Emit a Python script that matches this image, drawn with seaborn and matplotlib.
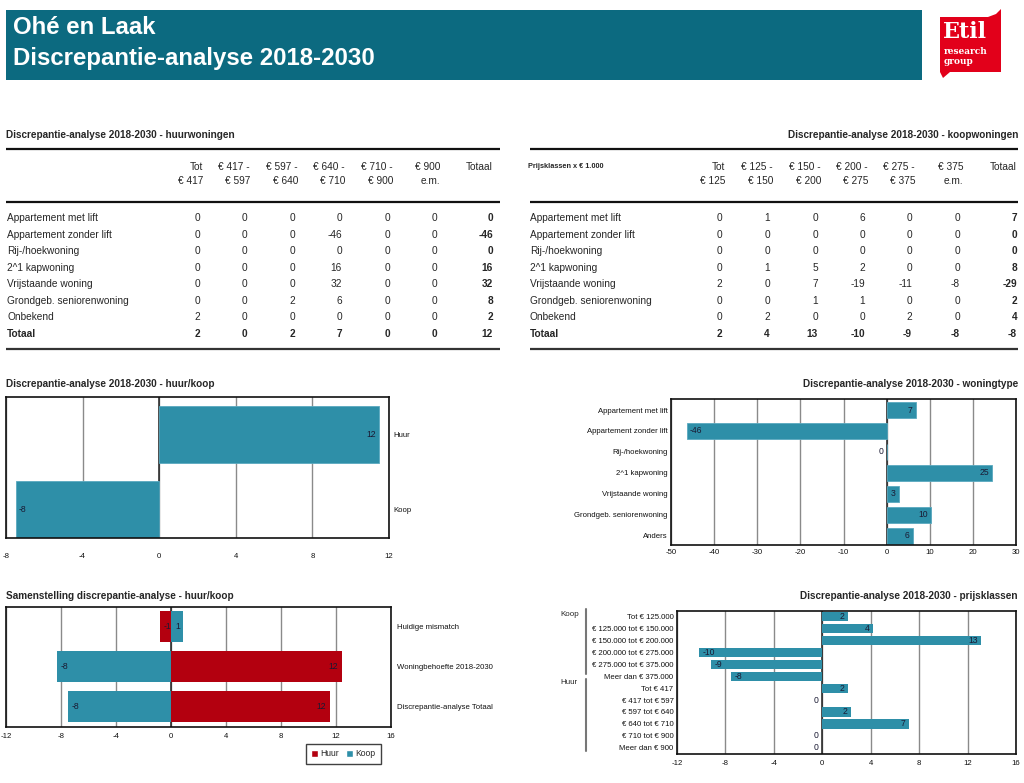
import matplotlib
matplotlib.use('Agg')
import matplotlib.pyplot as plt
import seaborn as sns
import pandas as pd
from matplotlib.patches import Rectangle, Polygon, Patch
from matplotlib.lines import Line2D

sns.set_theme(style='white')
plt.rcParams['font.family'] = ['Liberation Sans', 'DejaVu Sans']
plt.rcParams['axes.unicode_minus'] = False

# ---------------- data ----------------
page_title = "Ohé en Laak"
page_subtitle = "Discrepantie-analyse 2018-2030"

table_rows = ["Appartement met lift", "Appartement zonder lift", "Rij-/hoekwoning",
              "2^1 kapwoning", "Vrijstaande woning", "Grondgeb. seniorenwoning",
              "Onbekend", "Totaal"]
huur_head1 = ["Tot", "€ 417 -", "€ 597 -", "€ 640 -", "€ 710 -", "€ 900", "Totaal"]
huur_head2 = ["€ 417", "€ 597", "€ 640", "€ 710", "€ 900", "e.m.", ""]
huur_table = [[0, 0, 0, 0, 0, 0, 0],
              [0, 0, 0, -46, 0, 0, -46],
              [0, 0, 0, 0, 0, 0, 0],
              [0, 0, 0, 16, 0, 0, 16],
              [0, 0, 0, 32, 0, 0, 32],
              [0, 0, 2, 6, 0, 0, 8],
              [2, 0, 0, 0, 0, 0, 2],
              [2, 0, 2, 7, 0, 0, 12]]
koop_head1 = ["Tot", "€ 125 -", "€ 150 -", "€ 200 -", "€ 275 -", "€ 375", "Totaal"]
koop_head2 = ["€ 125", "€ 150", "€ 200", "€ 275", "€ 375", "e.m.", ""]
koop_table = [[0, 1, 0, 6, 0, 0, 7],
              [0, 0, 0, 0, 0, 0, 0],
              [0, 0, 0, 0, 0, 0, 0],
              [0, 1, 5, 2, 0, 0, 8],
              [2, 0, 7, -19, -11, -8, -29],
              [0, 0, 1, 1, 0, 0, 2],
              [0, 2, 0, 0, 2, 0, 4],
              [2, 4, 13, -10, -9, -8, -8]]

hk_cats = ["Huur", "Koop"]
hk_values = [11.5, -7.5]
hk_labels = ["12", "-8"]

wt_cats = ["Appartement met lift", "Appartement zonder lift", "Rij-/hoekwoning",
           "2^1 kapwoning", "Vrijstaande woning", "Grondgeb. seniorenwoning", "Anders"]
wt_values = [6.7, -46.4, 0, 24.5, 2.8, 10.4, 6.0]
wt_labels = ["7", "-46", "0", "25", "3", "10", "6"]

sam_cats = ["Huidige mismatch", "Woningbehoefte 2018-2030", "Discrepantie-analyse Totaal"]
sam_huur = [-0.8, 12.4, 11.55]
sam_koop = [0.9, -8.3, -7.5]
sam_huur_labels = ["-1", "12", "12"]
sam_koop_labels = ["1", "-8", "-8"]

pk_cats = ["Tot € 125.000", "€ 125.000 tot € 150.000", "€ 150.000 tot € 200.000",
           "€ 200.000 tot € 275.000", "€ 275.000 tot € 375.000", "Meer dan € 375.000",
           "Tot € 417", "€ 417 tot € 597", "€ 597 tot € 640", "€ 640 tot € 710",
           "€ 710 tot € 900", "Meer dan € 900"]
pk_values = [2.1, 4.2, 13.1, -10.2, -9.2, -7.5, 2.1, 0, 2.35, 7.15, 0, 0]
pk_labels = ["2", "4", "13", "-10", "-9", "-8", "2", "0", "2", "7", "0", "0"]
pk_groups = ["Koop", "Huur"]

# ---------------- style ----------------
TEAL = '#2e8fa8'
RED = '#b3000f'
HEADER = '#0c6a80'
LOGO_RED = '#e2001a'
LBL = '#1a1a33'
W, H = 1024, 783

fig = plt.figure(figsize=(10.24, 7.83), dpi=100)


def fx(x):
    return x / W


def fy(y):
    return 1 - y / H


def hline(x0, x1, y, lw=1.6, color='#111111'):
    fig.add_artist(Line2D([fx(x0), fx(x1)], [fy(y), fy(y)], transform=fig.transFigure,
                          color=color, lw=lw, solid_capstyle='butt'))


# ---------------- header ----------------
fig.add_artist(Rectangle((fx(6), fy(80)), fx(922) - fx(6), fy(10) - fy(80), transform=fig.transFigure,
                         facecolor=HEADER, edgecolor='none'))
fig.text(fx(13), fy(27), page_title, color='white', fontsize=17.3, fontweight='bold', va='center')
fig.text(fx(13), fy(58), page_subtitle, color='white', fontsize=17.3, fontweight='bold', va='center')

logo_pts = [(940, 17), (988, 17), (996, 14), (1001, 9), (1001, 72), (950, 72),
            (943, 78), (940, 72)]
fig.add_artist(Polygon([(fx(a), fy(b)) for a, b in logo_pts], closed=True,
                       transform=fig.transFigure, facecolor=LOGO_RED, edgecolor='none'))
fig.text(fx(943), fy(32), "Etil", color='white', fontsize=16, fontweight='bold',
         family='DejaVu Serif', va='center')
fig.text(fx(944), fy(52), "research", color='white', fontsize=6.5, fontweight='bold',
         family='DejaVu Serif', va='center')
fig.text(fx(944), fy(62), "group", color='white', fontsize=6.5, fontweight='bold',
         family='DejaVu Serif', va='center')

# ---------------- tables ----------------
row_y = [218, 235, 251, 268, 284, 301, 317, 334]
TFS = 7.3


def draw_table(x_label, x_left, x_right, col_x, head1, head2, data, title, title_right):
    if title_right:
        fig.text(fx(x_right), fy(135.5), title, fontsize=7.2, fontweight='bold', ha='right', va='center')
    else:
        fig.text(fx(x_left), fy(135.5), title, fontsize=7.2, fontweight='bold', ha='left', va='center')
    hline(x_left, x_right, 149)
    hline(x_left, x_right, 202)
    hline(x_left, x_right, 349, color='#333333')
    for j, cx in enumerate(col_x):
        off = 0 if j == len(col_x) - 1 else 3
        fig.text(fx(cx + off), fy(167), head1[j], fontsize=TFS, ha='right', va='center')
        fig.text(fx(cx + off), fy(181), head2[j], fontsize=TFS, ha='right', va='center')
    for i, lab in enumerate(table_rows):
        bold = (i == len(table_rows) - 1)
        fig.text(fx(x_label), fy(row_y[i]), lab, fontsize=TFS, ha='left', va='center',
                 fontweight='bold' if bold else 'normal')
        for j, cx in enumerate(col_x):
            b = bold or j == len(col_x) - 1
            fig.text(fx(cx), fy(row_y[i]), str(data[i][j]), fontsize=TFS, ha='right', va='center',
                     fontweight='bold' if b else 'normal')


draw_table(7, 6, 500, [200, 247, 295, 342, 390, 437, 493], huur_head1, huur_head2, huur_table,
           "Discrepantie-analyse 2018-2030 - huurwoningen", False)
draw_table(530, 530, 1018, [722, 770, 818, 865, 912, 960, 1017], koop_head1, koop_head2, koop_table,
           "Discrepantie-analyse 2018-2030 - koopwoningen", True)
fig.text(fx(528), fy(166.5), "Prijsklassen x € 1.000", fontsize=5.3, fontweight='bold', ha='left', va='center')


# ---------------- charts ----------------
def make_ax(x0, x1, y0, y1):
    return fig.add_axes([fx(x0), fy(y1), fx(x1) - fx(x0), fy(y0) - fy(y1)])


def style_ax(ax, ticks, xlim, ylim, xpad, ypad, right=False):
    ax.set_xlim(*xlim)
    ax.set_xticks(ticks)
    ax.set_xticklabels([str(t) for t in ticks])
    ax.set_ylim(*ylim)
    ax.grid(axis='x', color='#8a8a8a', lw=1.0)
    ax.grid(axis='y', visible=False)
    ax.set_axisbelow(True)
    ax.axvline(0, color='#222222', lw=1.1, zorder=0.8)
    for s in ax.spines.values():
        s.set_visible(True)
        s.set_color('#111111')
        s.set_linewidth(1.2)
    ax.tick_params(axis='x', length=0, labelsize=5.6, pad=xpad, colors='#111111')
    ax.tick_params(axis='y', length=0, labelsize=5.6, pad=ypad, colors='#111111')
    if right:
        ax.yaxis.tick_right()
    ax.set_xlabel('')
    ax.set_ylabel('')
    ax.set_facecolor('white')


def label_bars(ax, values, labels, positions, fs=6.2):
    for v, lab, p in zip(values, labels, positions):
        if v > 0:
            ax.annotate(lab, (v, p), xytext=(-2.5, 0), textcoords='offset points',
                        ha='right', va='center', fontsize=fs, color=LBL)
        elif v < 0:
            ax.annotate(lab, (v, p), xytext=(2.5, 0), textcoords='offset points',
                        ha='left', va='center', fontsize=fs, color=LBL)
        else:
            ax.annotate(lab, (0, p), xytext=(-2.5, 0), textcoords='offset points',
                        ha='right', va='center', fontsize=fs, color=LBL)


BAR_KW = dict(saturation=1, linewidth=0.6, edgecolor='#5aa9bf')

# Chart 1: huur/koop
fig.text(fx(6), fy(384), "Discrepantie-analyse 2018-2030 - huur/koop", fontsize=7.2,
         fontweight='bold', va='center')
ax1 = make_ax(6, 389, 397, 538)
sns.barplot(x=hk_values, y=hk_cats, orient='h', color=TEAL, width=0.76, ax=ax1, **BAR_KW)
style_ax(ax1, [-8, -4, 0, 4, 8, 12], (-8, 12), (1.38, -0.5), 11, 3, right=True)
label_bars(ax1, hk_values, hk_labels, range(len(hk_cats)))

# Chart 2: woningtype
fig.text(fx(1018), fy(384), "Discrepantie-analyse 2018-2030 - woningtype", fontsize=7.2,
         fontweight='bold', va='center', ha='right')
ax2 = make_ax(671, 1016, 399, 545)
sns.barplot(x=wt_values, y=wt_cats, orient='h', color=TEAL, width=0.76, ax=ax2, **BAR_KW)
style_ax(ax2, list(range(-50, 31, 10)), (-50, 30), (6.44, -0.525), 3, 2.5)
label_bars(ax2, wt_values, wt_labels, range(len(wt_cats)))

# Chart 3: samenstelling
fig.text(fx(6), fy(596), "Samenstelling discrepantie-analyse - huur/koop", fontsize=7.2,
         fontweight='bold', va='center')
ax3 = make_ax(6, 391, 607, 727)
sam_df = pd.DataFrame({
    'cat': sam_cats * 2,
    'serie': ['Huur'] * len(sam_cats) + ['Koop'] * len(sam_cats),
    'value': sam_huur + sam_koop,
})
sns.barplot(data=sam_df, x='value', y='cat', hue='serie', orient='h', dodge=False,
            palette={'Huur': RED, 'Koop': TEAL}, saturation=1, linewidth=0,
            width=0.77, ax=ax3, legend=False)
style_ax(ax3, [-12, -8, -4, 0, 4, 8, 12, 16], (-12, 16), (2.52, -0.49), 4, 4.5, right=True)
label_bars(ax3, sam_huur, sam_huur_labels, range(len(sam_cats)))
label_bars(ax3, sam_koop, sam_koop_labels, range(len(sam_cats)))
leg = fig.legend(handles=[Patch(facecolor=RED, label='Huur'), Patch(facecolor=TEAL, label='Koop')],
                 loc='center', bbox_to_anchor=(fx(343.5), fy(754)), ncol=2, frameon=True,
                 fontsize=6.2, handlelength=0.8, handleheight=0.8, handletextpad=0.3,
                 columnspacing=0.8, fancybox=False, borderpad=0.6)
leg.get_frame().set_edgecolor('#111111')
leg.get_frame().set_linewidth(1.0)

# Chart 4: prijsklassen
fig.text(fx(1018), fy(596), "Discrepantie-analyse 2018-2030 - prijsklassen", fontsize=7.2,
         fontweight='bold', va='center', ha='right')
ax4 = make_ax(677, 1016, 611, 754)
sns.barplot(x=pk_values, y=pk_cats, orient='h', color=TEAL, width=0.78, ax=ax4,
            saturation=1, linewidth=0)
style_ax(ax4, [-12, -8, -4, 0, 4, 8, 12, 16], (-12, 16), (11.53, -0.48), 4, 2.5)
label_bars(ax4, pk_values, pk_labels, range(len(pk_cats)))
# group brackets
fig.text(fx(560), fy(614), pk_groups[0], fontsize=5.8, va='center')
fig.text(fx(560), fy(682), pk_groups[1], fontsize=5.8, va='center')
fig.add_artist(Line2D([fx(586), fx(586)], [fy(609), fy(674)], transform=fig.transFigure,
                      color='#777777', lw=1.5))
fig.add_artist(Line2D([fx(586), fx(586)], [fy(679), fy(751)], transform=fig.transFigure,
                      color='#777777', lw=1.5))

fig.savefig('out.png', dpi=100, facecolor='white')
